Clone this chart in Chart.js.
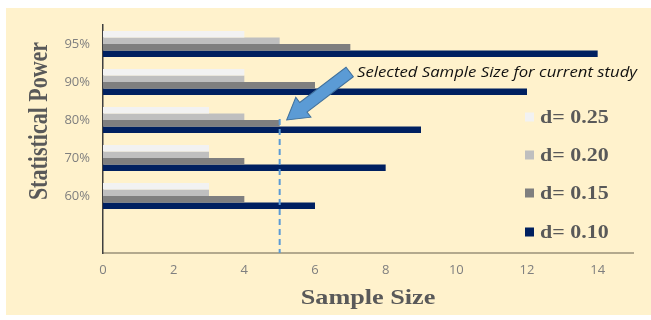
<!DOCTYPE html>
<html>
<head>
<meta charset="utf-8">
<script src="https://cdn.jsdelivr.net/npm/chart.js@4.4.1/dist/chart.umd.min.js"></script>
<style>
  html, body { margin: 0; padding: 0; background: #fff; }
</style>
</head>
<body>
<canvas id="powerChart" width="651" height="320"></canvas>
<script>
// categories (top to bottom), last one is the empty slot under 60%
const powerLevels = ["95%", "90%", "80%", "70%", "60%", ""];
const effectSizes = ["d= 0.25", "d= 0.20", "d= 0.15", "d= 0.10"];

// sample sizes per power level
const d025 = [4, 4, 3, 3, 3];
const d020 = [5, 4, 4, 3, 3];
const d015 = [7, 6, 5, 4, 4];
const d010 = [14, 12, 9, 8, 6];

const xTicks = [0, 2, 4, 6, 8, 10, 12, 14];
const selectedSize = 5;
const selectedPower = "80%";
const noteText = "Selected Sample Size for current study";

const barColors = ["#f2f2f2", "#bfbfbf", "#7f7f7f", "#002060"];
const titleColor = "#595959";
const tickColor = "#7f7f7f";
const arrowBlue = "#5b9bd5";

const ctx = document.getElementById("powerChart").getContext("2d");

// draws text stretched horizontally (the original looks widened)
function wideText(c, text, x, y, sx, align) {
  c.save();
  c.translate(x, y);
  c.scale(sx, 1);
  c.textAlign = align;
  c.fillText(text, 0, 0);
  c.restore();
}

const panelPlugin = {
  id: "panel",
  beforeDraw(chart) {
    const c = chart.ctx;
    c.save();
    c.fillStyle = "#fff2cc";
    c.fillRect(6, 8, chart.width - 6, 307);
    c.restore();
  }
};

const notePlugin = {
  id: "note",
  afterDatasetsDraw(chart) {
    const c = chart.ctx;
    const xs = chart.scales.x;
    const ys = chart.scales.y;
    const px = xs.getPixelForValue(selectedSize);
    const rowY = ys.getPixelForValue(powerLevels.indexOf(selectedPower));

    // dashed marker line
    c.save();
    c.strokeStyle = arrowBlue;
    c.lineWidth = 2;
    c.setLineDash([6, 4]);
    c.beginPath();
    c.moveTo(px, rowY - 1);
    c.lineTo(px, ys.bottom);
    c.stroke();
    c.restore();

    // block arrow
    const tipX = px + 7, tipY = rowY;
    const tailX = tipX + 63, tailY = tipY - 48;
    const ang = Math.atan2(tipY - tailY, tipX - tailX);
    const len = Math.hypot(tipX - tailX, tipY - tailY);
    c.save();
    c.translate(tailX, tailY);
    c.rotate(ang);
    c.beginPath();
    c.moveTo(0, -6);
    c.lineTo(len - 21, -6);
    c.lineTo(len - 21, -12.5);
    c.lineTo(len, 0);
    c.lineTo(len - 21, 12.5);
    c.lineTo(len - 21, 6);
    c.lineTo(0, 6);
    c.closePath();
    c.fillStyle = arrowBlue;
    c.fill();
    c.strokeStyle = "#41719c";
    c.lineWidth = 1;
    c.stroke();
    c.restore();

    // note text
    c.save();
    c.fillStyle = "#111";
    c.font = "italic 14px 'Open Sans'";
    c.textBaseline = "alphabetic";
    const w = c.measureText(noteText).width;
    wideText(c, noteText, 357, 77, 280 / w, "left");
    c.restore();
  },
  afterDraw(chart) {
    const c = chart.ctx;
    c.save();
    // legend
    const rows = [117, 155, 193, 232];
    c.font = "bold 18px 'Liberation Serif'";
    c.textBaseline = "middle";
    effectSizes.forEach((lab, i) => {
      c.fillStyle = barColors[i];
      c.fillRect(525, rows[i] - 4.5, 9, 9);
      c.fillStyle = titleColor;
      wideText(c, lab, 540, rows[i] + 1, 1.22, "left");
    });

    // axis titles
    c.font = "bold 22px 'Liberation Serif'";
    c.textBaseline = "alphabetic";
    c.fillStyle = titleColor;
    wideText(c, "Sample Size", 368, 304, 1.19, "center");

    c.translate(47, 121);
    c.rotate(-Math.PI / 2);
    c.scale(1, 1.2);
    c.textAlign = "center";
    c.fillText("Statistical Power", 0, 0);
    c.restore();
  }
};

const powerChart = new Chart(ctx, {
  type: "bar",
  data: {
    labels: powerLevels,
    datasets: [
      { label: effectSizes[0], data: d025, backgroundColor: barColors[0] },
      { label: effectSizes[1], data: d020, backgroundColor: barColors[1] },
      { label: effectSizes[2], data: d015, backgroundColor: barColors[2] },
      { label: effectSizes[3], data: d010, backgroundColor: barColors[3] },
    ],
  },
  options: {
    indexAxis: "y",
    responsive: false,
    animation: false,
    categoryPercentage: 0.68,
    barPercentage: 1.0,
    layout: { padding: { top: 25, right: 18, left: 0, bottom: 0 } },
    plugins: {
      legend: { display: false },
      tooltip: { enabled: false },
    },
    scales: {
      x: {
        min: 0,
        max: 15,
        afterBuildTicks: (s) => { s.ticks = xTicks.map((v) => ({ value: v })); },
        afterFit: (s) => { s.height = 67; },
        grid: { display: false, drawTicks: false },
        border: { color: "#b3a98d", width: 2 },
        ticks: {
          color: tickColor,
          padding: 9,
          font: { family: "'Open Sans'", size: 13 },
        },
      },
      y: {
        afterFit: (s) => { s.width = 103; },
        grid: { display: false, drawTicks: false },
        border: { color: "#3f3f3f", width: 1.5 },
        ticks: {
          color: tickColor,
          padding: 13,
          font: { family: "'Open Sans'", size: 13 },
        },
      },
    },
  },
  plugins: [panelPlugin, notePlugin],
});
</script>
</body>
</html>
